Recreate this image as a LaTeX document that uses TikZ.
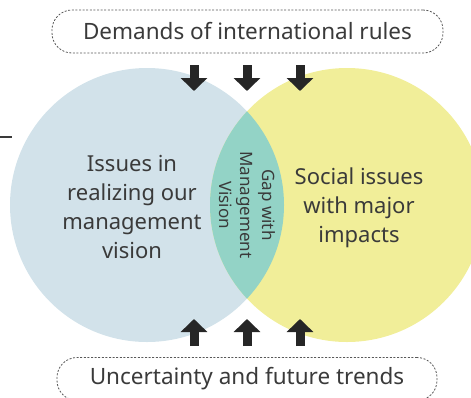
\documentclass[tikz,border=0pt]{standalone}
\usepackage{fontspec}
\setmainfont{Noto Sans}
\usetikzlibrary{arrows.meta}
\definecolor{visionblue}{HTML}{D2E2EA}
\definecolor{impactyellow}{HTML}{F1EE99}
\definecolor{gapteal}{HTML}{93D3C6}
\definecolor{inkgray}{HTML}{3A3A3A}
\tikzset{
  dashbox/.style={draw=inkgray!85, line width=0.8pt, dash pattern=on 2pt off 1.6pt,
    rounded corners=20pt, minimum height=43pt, text=inkgray,
    font=\fontsize{22.5}{26}\selectfont},
  circletext/.style={align=center, text=inkgray, font=\fontsize{22}{29}\selectfont},
  blockarrow/.style={line width=9pt, draw=black!85, -{Triangle[width=26pt,length=13pt]}}
}
\begin{document}
\begin{tikzpicture}[x=1pt,y=-1pt]
			\useasboundingbox (0,0) rectangle (471,397);
			\clip (0,0) rectangle (471,397);
			\fill[color=visionblue] (147,205) circle[radius=137]; % left circle
			\fill[color=impactyellow] (347,205) circle[radius=137]; % right circle
			\begin{scope}
			\clip (147,205) circle[radius=137];
			\fill[color=gapteal] (347,205) circle[radius=137]; % overlap
			\end{scope}
			\node[circletext] (issues) at (132,207) {Issues in\\realizing our\\management\\vision};
			\node[circletext] (social) at (359,208) {Social issues\\with major\\impacts};
			\node[circletext, rotate=-90, font=\fontsize{17}{21.5}\selectfont] (gap) at (247,205) {Gap with\\Management\\Vision};
			\node[dashbox, minimum width=391pt] (rules) at (247.5,31.5) {Demands of international rules};
			\node[dashbox, minimum width=380pt] (trends) at (247,379) {Uncertainty and future trends};
			\foreach \x [count=\i] in {194,247,300}{
				\coordinate (down\i) at (\x,65); \coordinate (downend\i) at (\x,91);
				\draw[blockarrow] (down\i) -- (downend\i); % from the rules
				\coordinate (up\i) at (\x,346); \coordinate (upend\i) at (\x,319);
				\draw[blockarrow] (up\i) -- (upend\i); % from the trends
			}
			\coordinate (tick) at (0,137); \coordinate (tickend) at (12,137);
			\draw[line width=1.2pt, inkgray] (tick) -- (tickend);
\end{tikzpicture}
\end{document}
